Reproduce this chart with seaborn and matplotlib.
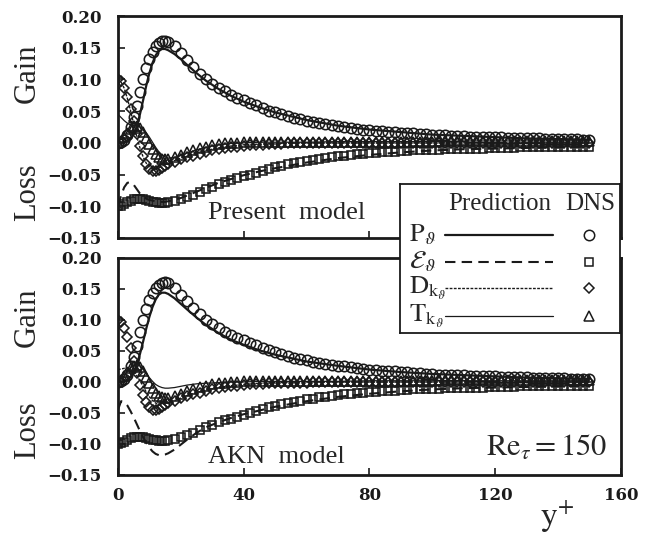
import numpy as np
import pandas as pd
import matplotlib
matplotlib.use("Agg")
import matplotlib.pyplot as plt
import seaborn as sns

# ---------------- data ----------------
yp_dns = [0, 1, 2, 3, 4, 5, 6, 7, 8, 9,
          10, 11, 12, 13, 14, 15, 16, 18, 20, 22,
          24, 26, 28, 30, 32, 34, 36, 38, 40, 42,
          44, 46, 48, 50, 52, 54, 56, 58, 60, 62,
          64, 66, 68, 70, 72, 74, 76, 78, 80, 82,
          84, 86, 88, 90, 92, 94, 96, 98, 100, 102,
          104, 106, 108, 110, 112, 114, 116, 118, 120, 122,
          124, 126, 128, 130, 132, 134, 136, 138, 140, 142,
          144, 146, 148, 150]

P_dns = [0.000, 0.001, 0.004, 0.012, 0.025, 0.040, 0.058, 0.080, 0.100, 0.118,
         0.132, 0.144, 0.152, 0.157, 0.160, 0.161, 0.159, 0.152, 0.141, 0.130,
         0.119, 0.109, 0.100, 0.093, 0.087, 0.081, 0.076, 0.071, 0.067, 0.063,
         0.059, 0.055, 0.051, 0.048, 0.045, 0.042, 0.039, 0.037, 0.035, 0.033,
         0.031, 0.029, 0.028, 0.026, 0.025, 0.024, 0.022, 0.021, 0.020, 0.019,
         0.018, 0.0175, 0.017, 0.016, 0.0155, 0.015, 0.014, 0.0135, 0.013, 0.012,
         0.0117, 0.0113, 0.011, 0.0105, 0.010, 0.010, 0.0095, 0.009, 0.009, 0.0085,
         0.0083, 0.008, 0.0077, 0.0075, 0.007, 0.007, 0.0067, 0.0063, 0.006, 0.006,
         0.0055, 0.0053, 0.005, 0.005]

E_dns = [-0.100, -0.099, -0.097, -0.094, -0.091, -0.089, -0.088, -0.088, -0.089, -0.090,
         -0.092, -0.093, -0.094, -0.095, -0.095, -0.095, -0.094, -0.092, -0.089, -0.086,
         -0.082, -0.078, -0.073, -0.069, -0.065, -0.062, -0.059, -0.056, -0.053, -0.050,
         -0.047, -0.044, -0.041, -0.038, -0.036, -0.034, -0.032, -0.030, -0.028, -0.027,
         -0.025, -0.024, -0.023, -0.021, -0.020, -0.019, -0.018, -0.017, -0.016, -0.016,
         -0.015, -0.014, -0.014, -0.013, -0.013, -0.012, -0.012, -0.011, -0.011, -0.011,
         -0.010, -0.010, -0.010, -0.009, -0.009, -0.009, -0.009, -0.008, -0.008, -0.008,
         -0.008, -0.008, -0.007, -0.007, -0.007, -0.007, -0.007, -0.007, -0.007, -0.006,
         -0.006, -0.006, -0.006, -0.006]

D_dns = [0.100, 0.097, 0.087, 0.072, 0.054, 0.034, 0.014, -0.005, -0.021, -0.033,
         -0.041, -0.045, -0.045, -0.043, -0.040, -0.037, -0.034, -0.030, -0.026, -0.023,
         -0.020, -0.017, -0.014, -0.012, -0.010, -0.008, -0.007, -0.006, -0.005, -0.004,
         -0.003, -0.003, -0.002, -0.002, -0.002, -0.001, -0.001, -0.001, -0.001, 0.000,
         0.000, 0.000, 0.000, 0.000, 0.000, 0.000, 0.000, 0.000, 0.000, 0.000,
         0.000, 0.000, 0.000, 0.000, 0.000, 0.000, 0.000, 0.000, 0.000, 0.000,
         0.000, 0.000, 0.000, 0.000, 0.000, 0.000, 0.000, 0.000, 0.000, 0.000,
         0.000, 0.000, 0.000, 0.000, 0.000, 0.000, 0.000, 0.000, 0.000, 0.000,
         0.000, 0.000, 0.000, 0.000]

T_dns = [0.000, 0.003, 0.009, 0.016, 0.022, 0.026, 0.027, 0.024, 0.017, 0.008,
         -0.002, -0.010, -0.017, -0.022, -0.025, -0.026, -0.026, -0.023, -0.019, -0.015,
         -0.011, -0.008, -0.006, -0.004, -0.002, -0.001, 0.000, 0.000, 0.001, 0.001,
         0.001, 0.001, 0.001, 0.001, 0.001, 0.001, 0.001, 0.001, 0.001, 0.002,
         0.002, 0.002, 0.002, 0.002, 0.002, 0.002, 0.002, 0.002, 0.002, 0.002,
         0.002, 0.002, 0.002, 0.002, 0.002, 0.002, 0.002, 0.002, 0.002, 0.003,
         0.003, 0.003, 0.003, 0.003, 0.003, 0.003, 0.003, 0.003, 0.003, 0.003,
         0.003, 0.003, 0.003, 0.003, 0.003, 0.003, 0.003, 0.003, 0.003, 0.003,
         0.003, 0.003, 0.003, 0.003]

yp_pred = [0, 1, 2, 3, 4, 5, 6, 7, 8, 9,
           10, 11, 12, 13, 14, 15, 16, 18, 20, 22,
           25, 28, 32, 36, 40, 45, 50, 60, 70, 80,
           90, 100, 110, 120, 130, 140, 150]

# Present model predictions
P_pres = [0.000, 0.000, 0.001, 0.003, 0.007, 0.014, 0.026, 0.045, 0.067, 0.090,
          0.110, 0.126, 0.138, 0.145, 0.148, 0.148, 0.146, 0.140, 0.132, 0.123,
          0.110, 0.098, 0.085, 0.074, 0.065, 0.056, 0.048, 0.036, 0.027, 0.021,
          0.017, 0.013, 0.011, 0.009, 0.007, 0.006, 0.005]
E_pres = [-0.100, -0.083, -0.070, -0.063, -0.062, -0.066, -0.073, -0.080, -0.085, -0.088,
          -0.090, -0.091, -0.092, -0.093, -0.093, -0.093, -0.092, -0.090, -0.087, -0.083,
          -0.077, -0.071, -0.063, -0.057, -0.051, -0.045, -0.040, -0.031, -0.024, -0.019,
          -0.015, -0.012, -0.010, -0.009, -0.008, -0.007, -0.006]
D_pres = [0.100, 0.096, 0.086, 0.070, 0.051, 0.030, 0.010, -0.008, -0.022, -0.032,
          -0.038, -0.041, -0.041, -0.039, -0.037, -0.034, -0.032, -0.028, -0.024, -0.021,
          -0.016, -0.012, -0.008, -0.005, -0.003, -0.002, -0.001, 0.000, 0.000, 0.000,
          0.000, 0.000, 0.000, 0.000, 0.000, 0.000, 0.000]
T_pres = [0.045, 0.040, 0.035, 0.031, 0.028, 0.027, 0.026, 0.025, 0.022, 0.016,
          0.009, 0.001, -0.007, -0.014, -0.019, -0.022, -0.024, -0.023, -0.020, -0.016,
          -0.011, -0.007, -0.003, -0.001, 0.000, 0.001, 0.001, 0.001, 0.002, 0.002,
          0.002, 0.002, 0.003, 0.003, 0.003, 0.003, 0.003]

# AKN model predictions
P_akn = [0.000, 0.000, 0.001, 0.003, 0.008, 0.016, 0.028, 0.045, 0.065, 0.086,
         0.105, 0.121, 0.133, 0.141, 0.144, 0.144, 0.142, 0.135, 0.126, 0.117,
         0.104, 0.092, 0.079, 0.068, 0.060, 0.051, 0.044, 0.033, 0.026, 0.020,
         0.016, 0.013, 0.011, 0.009, 0.007, 0.006, 0.005]
E_akn = [-0.045, -0.031, -0.032, -0.038, -0.047, -0.057, -0.068, -0.079, -0.089, -0.098,
         -0.106, -0.112, -0.116, -0.118, -0.118, -0.117, -0.115, -0.109, -0.101, -0.093,
         -0.082, -0.073, -0.065, -0.058, -0.052, -0.046, -0.040, -0.031, -0.024, -0.019,
         -0.015, -0.012, -0.010, -0.009, -0.008, -0.007, -0.006]
D_akn = [0.020, 0.021, 0.022, 0.022, 0.020, 0.016, 0.010, 0.002, -0.007, -0.016,
         -0.024, -0.030, -0.034, -0.036, -0.036, -0.035, -0.034, -0.030, -0.026, -0.022,
         -0.017, -0.013, -0.009, -0.006, -0.004, -0.002, -0.001, 0.000, 0.000, 0.000,
         0.000, 0.000, 0.000, 0.000, 0.000, 0.000, 0.000]
T_akn = [0.000, 0.004, 0.010, 0.017, 0.023, 0.027, 0.028, 0.026, 0.021, 0.014,
         0.007, 0.001, -0.004, -0.007, -0.009, -0.010, -0.010, -0.009, -0.007, -0.005,
         -0.003, -0.002, -0.001, 0.000, 0.000, 0.001, 0.001, 0.001, 0.001, 0.002,
         0.002, 0.002, 0.002, 0.002, 0.002, 0.002, 0.002]

xticks = [0, 40, 80, 120, 160]
xtick_labels = ["0", "40", "80", "120", "160"]
yticks = [-0.15, -0.10, -0.05, 0.00, 0.05, 0.10, 0.15, 0.20]
ytick_labels = ["\u22120.15", "\u22120.10", "\u22120.05", "0.00", "0.05", "0.10", "0.15", "0.20"]

# ---------------- style ----------------
sns.set_theme(style="white")
plt.rcParams['font.family'] = ['Liberation Serif', 'DejaVu Serif']
plt.rcParams['mathtext.fontset'] = 'stix'

fig = plt.figure(figsize=(6.48, 5.37), dpi=100)
ax1 = fig.add_axes([0.182, 0.5568, 0.7762, 0.4134])
ax2 = fig.add_axes([0.182, 0.1155, 0.7762, 0.4041])

preds = {ax1: (P_pres, E_pres, D_pres, T_pres), ax2: (P_akn, E_akn, D_akn, T_akn)}

line_styles = [dict(ls='-', lw=1.6), dict(ls=(0, (5, 3)), lw=1.5),
               dict(ls=(0, (2, 1)), lw=1.0), dict(ls='-', lw=0.9)]
mk = [dict(marker='o', ms=7.5), dict(marker='s', ms=5.8),
      dict(marker='D', ms=5.0), dict(marker='^', ms=6.5)]
dns = [P_dns, E_dns, D_dns, T_dns]

for ax in (ax1, ax2):
    for vals, m in zip(dns, mk):
        sns.lineplot(x=yp_dns, y=vals, ax=ax, estimator=None, sort=False,
                     color='k', linestyle='none', mfc='none', mec='k', mew=1.15, **m)
    for vals, st in zip(preds[ax], line_styles):
        sns.lineplot(x=yp_pred, y=vals, ax=ax, estimator=None, sort=False,
                     color='k', **st)
    ax.set_xlim(0, 160)
    ax.set_ylim(-0.15, 0.20)
    ax.set_yticks(yticks)
    ax.set_yticklabels(ytick_labels, fontfamily='DejaVu Serif', fontweight='bold', fontsize=12)
    ax.set_xticks(xticks)
    ax.tick_params(axis='both', direction='in', length=5, width=1.2, left=True,
                   bottom=True, right=False, top=False, pad=12, colors='k')
    for s in ax.spines.values():
        s.set_linewidth(2.0)
        s.set_color('k')
    ax.set_xlabel('')
    ax.set_ylabel('')
    ax.grid(False)

ax1.set_xticklabels([])
ax2.set_xticklabels(xtick_labels, fontfamily='DejaVu Serif', fontweight='bold', fontsize=12)
ax2.tick_params(axis='x', pad=9)

ax1.text(0.179, 0.113, "Present  model", transform=ax1.transAxes, fontsize=19,
         ha='left', va='center')
ax2.text(0.179, 0.083, "AKN  model", transform=ax2.transAxes, fontsize=19,
         ha='left', va='center')
ax2.text(0.972, 0.124, r"$\mathrm{Re}_{\tau}=150$", transform=ax2.transAxes,
         fontsize=22, ha='right', va='center')
fig.text(0.86, 0.037, r"$\mathrm{y}^{+}$", fontsize=24, ha='center', va='center')

for y, t in [(0.864, "Gain"), (0.642, "Loss"), (0.41, "Gain"), (0.199, "Loss")]:
    fig.text(0.042, y, t, rotation=90, fontsize=22, ha='center', va='center')

# ---------------- legend box ----------------
lax = fig.add_axes([0.6173, 0.3799, 0.3395, 0.2775])
lax.set_zorder(10)
lax.set_facecolor('white')
lax.set_xlim(0, 1)
lax.set_ylim(0, 1)
lax.set_xticks([])
lax.set_yticks([])
for s in lax.spines.values():
    s.set_linewidth(1.3)
    s.set_color('k')

lax.text(0.455, 0.866, "Prediction", fontsize=18, ha='center', va='center')
lax.text(0.864, 0.866, "DNS", fontsize=18, ha='center', va='center')
leg_labels = [r"$\mathrm{P}_{\vartheta}$", r"$\mathcal{E}_{\vartheta}$",
              r"$\mathrm{D}_{\mathrm{k}_{\vartheta}}$", r"$\mathrm{T}_{\mathrm{k}_{\vartheta}}$"]
rows = [0.658, 0.477, 0.302, 0.114]
for lab, ry, st, m in zip(leg_labels, rows, line_styles, mk):
    lax.text(0.04, ry, lab, fontsize=19, ha='left', va='center')
    lax.plot([0.205, 0.695], [ry, ry], color='k', **st)
    lax.plot([0.859], [ry], color='k', linestyle='none', mfc='none', mec='k',
             mew=1.1, **m)

fig.savefig("out.png", dpi=100)
